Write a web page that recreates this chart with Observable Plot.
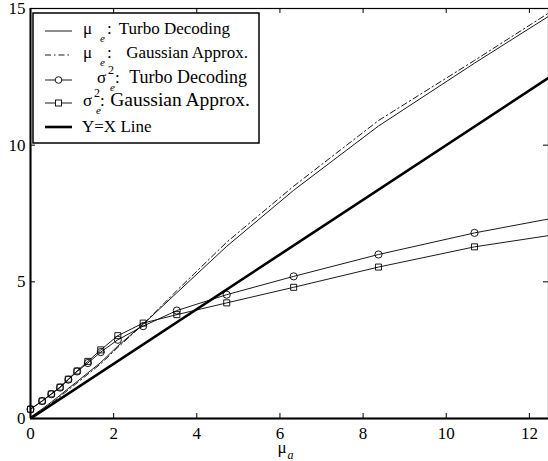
<!DOCTYPE html>
<html><head><meta charset="utf-8">
<script src="https://cdn.jsdelivr.net/npm/d3@7"></script>
<script src="https://cdn.jsdelivr.net/npm/@observablehq/plot@0.6"></script>
<style>
body{margin:0;background:#fff;}
#wrap{position:relative;width:548px;height:461px;}
</style></head><body><div id="wrap"></div>
<script>
// Data
const muA       = [0, 0.28, 0.5, 0.71, 0.91, 1.12, 1.38, 1.69, 2.1, 2.71, 3.52, 4.72, 6.33, 8.37, 10.68, 12.5];
const muETurbo  = [0.05, 0.35, 0.6, 0.85, 1.1, 1.35, 1.67, 2.05, 2.65, 3.45, 4.6, 6.3, 8.35, 10.7, 13.0, 14.75];
const muEGauss  = [0.0, 0.3, 0.55, 0.8, 1.05, 1.3, 1.62, 2.0, 2.6, 3.45, 4.68, 6.45, 8.5, 10.9, 13.1, 14.87];
const sigTurbo  = [0.34, 0.64, 0.89, 1.13, 1.42, 1.72, 2.03, 2.43, 2.88, 3.38, 3.95, 4.53, 5.2, 6.0, 6.79, 7.31];
const sigGauss  = [0.34, 0.64, 0.9, 1.15, 1.44, 1.74, 2.09, 2.51, 3.03, 3.49, 3.8, 4.23, 4.8, 5.54, 6.28, 6.7];
const markerCount = 15; // markers drawn on the first 15 samples
const xTicks = [0, 2, 4, 6, 8, 10, 12];
const yTicks = [0, 5, 10, 15];
const xDomain = [0, 12.46];
const yDomain = [0, 15];
const serif = '"Liberation Serif","Times New Roman",serif';

const rows = muA.map((x, i) => ({x, muT: muETurbo[i], muG: muEGauss[i], sT: sigTurbo[i], sG: sigGauss[i], m: i < markerCount}));
const marked = rows.filter(d => d.m);
const diag = [xDomain[0], xDomain[1]].map(v => ({x: v, y: v}));

const plot = Plot.plot({
  width: 548, height: 461,
  marginLeft: 30, marginRight: 0, marginTop: 8, marginBottom: 43,
  x: {domain: xDomain},
  y: {domain: yDomain},
  style: {fontFamily: serif, fontSize: "17px", color: "#000", background: "#fff"},
  marks: [
    Plot.frame({stroke: "#000", strokeWidth: 1.2}),
    Plot.axisX(xTicks, {anchor: "bottom", tickSize: 0, tickPadding: 8, label: null, fontSize: 17}),
    Plot.axisY(yTicks, {anchor: "left", tickSize: 0, tickPadding: 5, label: null, fontSize: 17}),
    // inward tick marks (MATLAB style) on all four sides
    Plot.ruleX(xTicks, {x: d => d, y1: yDomain[0], y2: yDomain[0], insetBottom: 5, stroke: "#000", strokeWidth: 1}),
    Plot.ruleX(xTicks, {x: d => d, y1: yDomain[1], y2: yDomain[1], insetTop: 5, stroke: "#000", strokeWidth: 1}),
    Plot.ruleY(yTicks, {y: d => d, x1: xDomain[0], x2: xDomain[0], insetLeft: 5, stroke: "#000", strokeWidth: 1}),
    Plot.ruleY(yTicks, {y: d => d, x1: xDomain[1], x2: xDomain[1], insetRight: 5, stroke: "#000", strokeWidth: 1}),
    Plot.line(diag, {x: "x", y: "y", stroke: "#000", strokeWidth: 2.6, clip: true}),
    Plot.line(rows, {x: "x", y: "muT", stroke: "#000", strokeWidth: 0.9, clip: true}),
    Plot.line(rows, {x: "x", y: "muG", stroke: "#000", strokeWidth: 0.9, strokeDasharray: "6,3,1.5,3", clip: true}),
    Plot.line(rows, {x: "x", y: "sT", stroke: "#000", strokeWidth: 0.9, clip: true}),
    Plot.line(rows, {x: "x", y: "sG", stroke: "#000", strokeWidth: 0.9, clip: true}),
    Plot.dot(marked, {x: "x", y: "sT", r: 3.6, stroke: "#000", fill: "none", strokeWidth: 0.9}),
    Plot.dot(marked, {x: "x", y: "sG", r: 3.4, symbol: "square", stroke: "#000", fill: "none", strokeWidth: 0.9}),
    Plot.ruleX([0], {stroke: "#000", strokeWidth: 2}),
    Plot.ruleY([0], {stroke: "#000", strokeWidth: 2})
  ]
});
const wrap = document.getElementById("wrap");
wrap.appendChild(plot);

const xs = plot.scale("x");
const svg = d3.select(plot);

// x axis label: mu with subscript a
const lab = svg.append("text")
  .attr("x", xs.apply(6) - 2).attr("y", 453).attr("text-anchor", "start")
  .attr("font-family", serif).attr("font-size", 17).attr("fill", "#000");
lab.append("tspan").text("μ");
lab.append("tspan").attr("font-size", 12).attr("font-style", "italic").attr("dx", 1).attr("dy", 6).text("a");

// Legend (MATLAB style box, upper left)
const legendItems = [
  {sym: "μ", sup: "", text: "Turbo Decoding", kind: "solid"},
  {sym: "μ", sup: "", text: "Gaussian Approx.", kind: "dashdot"},
  {sym: "σ", sup: "2", text: "Turbo Decoding", kind: "circle"},
  {sym: "σ", sup: "2", text: "Gaussian Approx.", kind: "square"},
  {sym: "", sup: "", text: "Y=X Line", kind: "thick"}
];
const box = {x: 33, y: 13, w: 226, h: 130};
const lineY = [31, 55, 80, 103, 127];
const symX  = [83, 83, 97, 83, 82];
const colonX = [107, 107, 115, 100, 0];
const textEnd = [230, 248, 247, 250, 0];
const textSize = [17, 17, 18, 19.5, 17];
const lg = svg.append("g").attr("font-family", serif).attr("fill", "#000").attr("text-anchor", "start");
lg.append("rect").attr("x", box.x).attr("y", box.y).attr("width", box.w).attr("height", box.h)
  .attr("fill", "#fff").attr("stroke", "#000").attr("stroke-width", 1.5);
legendItems.forEach((it, i) => {
  const y = lineY[i];
  const g = lg.append("g");
  const line = g.append("line").attr("x1", 45).attr("x2", 72).attr("y1", y).attr("y2", y).attr("stroke", "#000")
    .attr("stroke-width", it.kind === "thick" ? 2.6 : 0.9);
  if (it.kind === "dashdot") line.attr("stroke-dasharray", "6,3,1.5,3");
  if (it.kind === "circle") g.append("circle").attr("cx", 58.5).attr("cy", y).attr("r", 3.3).attr("fill", "#fff").attr("stroke", "#000").attr("stroke-width", 0.9);
  if (it.kind === "square") g.append("rect").attr("x", 55.5).attr("y", y - 3).attr("width", 6).attr("height", 6).attr("fill", "#fff").attr("stroke", "#000").attr("stroke-width", 0.9);
  const base = y + 3;
  const sx = symX[i];
  if (!it.sym) {
    g.append("text").attr("x", sx).attr("y", base + 2).attr("font-size", 17).text(it.text);
    return;
  }
  g.append("text").attr("x", sx).attr("y", base).attr("font-size", 17).text(it.sym);
  if (it.sup) {
    g.append("text").attr("x", sx + 11).attr("y", base - 9).attr("font-size", 12).text(it.sup);
    g.append("text").attr("x", sx + 13).attr("y", base + 8).attr("font-size", 11).attr("font-style", "italic").text("e");
  } else {
    g.append("text").attr("x", sx + 17).attr("y", base + 8).attr("font-size", 11).attr("font-style", "italic").text("e");
  }
  g.append("text").attr("x", colonX[i]).attr("y", base).attr("font-size", 17).text(":");
  g.append("text").attr("x", textEnd[i]).attr("y", base).attr("font-size", textSize[i]).attr("text-anchor", "end").text(it.text);
});
</script>
</body></html>
